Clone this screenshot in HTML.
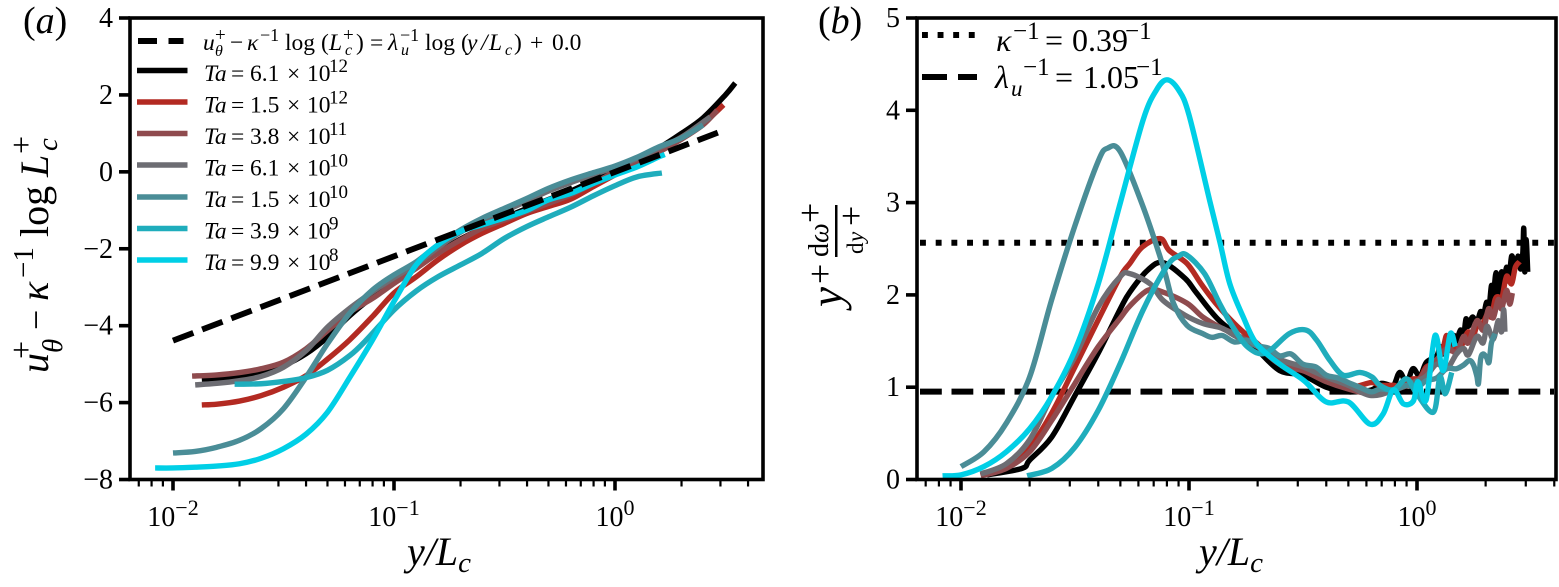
<!DOCTYPE html>
<html lang="en">
<head>
<meta charset="utf-8">
<title>Velocity and gradient profiles</title>
<style>
html,body{margin:0;padding:0;background:#fff;width:1559px;height:587px;overflow:hidden}
svg{display:block}
text{font-family:"Liberation Serif",serif;fill:#000}
.i{font-style:italic}
</style>
</head>
<body>
<svg id="figure" xmlns="http://www.w3.org/2000/svg" width="1559" height="587" viewBox="0 0 1559 587">
<rect width="1559" height="587" fill="#fff"/>
<g id="layerA"></g>
<g id="layerB"></g>

<text x="23" y="33" font-size="38">(<tspan class="i">a</tspan>)</text>
<text x="818" y="33" font-size="38">(<tspan class="i">b</tspan>)</text>

<text x="407" y="565" font-size="40" class="i">y/L<tspan font-size="29" dy="7">c</tspan></text>
<text x="1199" y="565" font-size="40" class="i">y/L<tspan font-size="29" dy="7">c</tspan></text>

<g transform="translate(48,373) rotate(-90)">
<text x="0" y="0" font-size="40" class="i">u</text>
<text x="14" y="-16" font-size="32">+</text>
<text x="20" y="14" font-size="29" class="i">θ</text>
<text x="43" y="0" font-size="36">−</text>
<text x="72" y="0" font-size="40" class="i">κ</text>
<text x="95" y="-15" font-size="29">−1</text>
<text x="136" y="0" font-size="40">log</text>
<text x="196" y="0" font-size="40" class="i">L</text>
<text x="219" y="-16" font-size="32">+</text>
<text x="222" y="9" font-size="29" class="i">c</text>
</g>

<g>
<g transform="translate(842,307) rotate(-90)">
<text x="0" y="0" font-size="45" class="i">y</text>
<text x="23" y="-10" font-size="36">+</text>
</g>
<g transform="translate(828,257) rotate(-90)">
<text x="0" y="0" font-size="28">d</text>
<text x="14" y="0" font-size="28" class="i">ω</text>
<text x="34" y="-6" font-size="36">+</text>
</g>
<rect x="835" y="205" width="2.5" height="52" fill="#000"/>
<g transform="translate(863,254) rotate(-90)">
<text x="0" y="0" font-size="23">d</text>
<text x="12" y="0" font-size="23" class="i">y</text>
<text x="28" y="0" font-size="36">+</text>
</g>
</g>

<g>
<line x1="138" x2="183.5" y1="41" y2="41" stroke="#000" stroke-width="5.9" stroke-dasharray="19 11.5"/>
<text y="50" font-size="23.5">
<tspan class="i" x="203">u</tspan><tspan font-size="19" x="215" dy="-9">+</tspan><tspan font-size="16" class="i" x="215" dy="15">θ</tspan><tspan x="230" dy="-6">−</tspan><tspan class="i" x="247">κ</tspan><tspan font-size="18" x="260" dy="-9">−1</tspan><tspan x="285" dy="9">log</tspan><tspan x="321">(</tspan><tspan class="i" x="329">L</tspan><tspan font-size="19" x="343" dy="-9">+</tspan><tspan font-size="16" class="i" x="345" dy="14">c</tspan><tspan x="356" dy="-5">)</tspan><tspan x="370">=</tspan><tspan class="i" x="388">λ</tspan><tspan font-size="18" x="400" dy="-9">−1</tspan><tspan font-size="16" class="i" x="401" dy="14">u</tspan><tspan x="425" dy="-5">log</tspan><tspan x="461">(</tspan><tspan class="i" x="467">y</tspan><tspan class="i" x="481">/</tspan><tspan class="i" x="489">L</tspan><tspan font-size="16" class="i" x="505" dy="5">c</tspan><tspan x="514" dy="-5">)</tspan><tspan x="530">+</tspan><tspan x="552">0.0</tspan>
</text>
<line x1="137" x2="187.5" y1="70.5" y2="70.5" stroke="#000" stroke-width="5.4"/>
<line x1="137" x2="187.5" y1="102" y2="102" stroke="#b32a22" stroke-width="5.4"/>
<line x1="137" x2="187.5" y1="133.5" y2="133.5" stroke="#8f4b4e" stroke-width="5.4"/>
<line x1="137" x2="187.5" y1="165" y2="165" stroke="#6d6d73" stroke-width="5.4"/>
<line x1="137" x2="187.5" y1="197" y2="197" stroke="#4a8d97" stroke-width="5.4"/>
<line x1="137" x2="187.5" y1="228.5" y2="228.5" stroke="#1fadbc" stroke-width="5.4"/>
<line x1="137" x2="187.5" y1="260" y2="260" stroke="#00cfe6" stroke-width="5.4"/>
<text y="81" font-size="23.5"><tspan class="i" x="204">Ta</tspan><tspan x="231">=</tspan><tspan x="250">6.1</tspan><tspan x="287">×</tspan><tspan x="307">10</tspan><tspan font-size="19" x="329" dy="-9">12</tspan></text>
<text y="112.5" font-size="23.5"><tspan class="i" x="204">Ta</tspan><tspan x="231">=</tspan><tspan x="250">1.5</tspan><tspan x="287">×</tspan><tspan x="307">10</tspan><tspan font-size="19" x="329" dy="-9">12</tspan></text>
<text y="144" font-size="23.5"><tspan class="i" x="204">Ta</tspan><tspan x="231">=</tspan><tspan x="250">3.8</tspan><tspan x="287">×</tspan><tspan x="307">10</tspan><tspan font-size="19" x="329" dy="-9">11</tspan></text>
<text y="175.5" font-size="23.5"><tspan class="i" x="204">Ta</tspan><tspan x="231">=</tspan><tspan x="250">6.1</tspan><tspan x="287">×</tspan><tspan x="307">10</tspan><tspan font-size="19" x="329" dy="-9">10</tspan></text>
<text y="207" font-size="23.5"><tspan class="i" x="204">Ta</tspan><tspan x="231">=</tspan><tspan x="250">1.5</tspan><tspan x="287">×</tspan><tspan x="307">10</tspan><tspan font-size="19" x="329" dy="-9">10</tspan></text>
<text y="238.5" font-size="23.5"><tspan class="i" x="204">Ta</tspan><tspan x="231">=</tspan><tspan x="250">3.9</tspan><tspan x="287">×</tspan><tspan x="307">10</tspan><tspan font-size="19" x="329" dy="-9">9</tspan></text>
<text y="270" font-size="23.5"><tspan class="i" x="204">Ta</tspan><tspan x="231">=</tspan><tspan x="250">9.9</tspan><tspan x="287">×</tspan><tspan x="307">10</tspan><tspan font-size="19" x="329" dy="-9">8</tspan></text>
</g>

<g>
<line x1="922" x2="977" y1="35" y2="35" stroke="#000" stroke-width="5.9" stroke-dasharray="5.9 9.7"/>
<line x1="922" x2="977" y1="77" y2="77" stroke="#000" stroke-width="5.9" stroke-dasharray="25 11"/>
<text y="51" font-size="32"><tspan class="i" x="996">κ</tspan><tspan font-size="25" x="1013" dy="-12">−1</tspan><tspan x="1045" dy="12">=</tspan><tspan x="1072">0.39</tspan><tspan font-size="25" x="1125" dy="-12">−1</tspan></text>
<text y="88" font-size="32"><tspan class="i" x="995">λ</tspan><tspan font-size="25" x="1023" dy="-13">−1</tspan><tspan font-size="23" class="i" x="1011" dy="21">u</tspan><tspan x="1055" dy="-8">=</tspan><tspan x="1083">1.05</tspan><tspan font-size="25" x="1136" dy="-13">−1</tspan></text>
</g>

<script>
// ---------- panel (a) data: y/Lc and u+ - k^-1 log Lc+ ----------
const fitX = [0.01, 2.92];
const fitY = [-4.39, 1.02];

const a61e12X = [0.0135,0.0158,0.02,0.025,0.0316,0.04,0.05,0.063,0.08,0.1,0.126,0.158,0.2,0.25,0.316,0.4,0.5,0.63,0.8,1,1.26,1.58,2,2.5,3.16,3.5];
const a61e12Y = [-5.39,-5.37,-5.3,-5.21,-5.04,-4.73,-4.3,-3.74,-3.25,-2.85,-2.45,-2.1,-1.75,-1.47,-1.2,-0.95,-0.72,-0.5,-0.22,0.08,0.32,0.62,1.0,1.4,2.0,2.31];

const a15e12X = [0.0135,0.0158,0.02,0.025,0.0316,0.04,0.05,0.063,0.08,0.1,0.126,0.158,0.2,0.25,0.316,0.4,0.5,0.63,0.8,1,1.26,1.58,2,2.5,3.1];
const a15e12Y = [-6.06,-6.04,-5.96,-5.82,-5.6,-5.3,-4.87,-4.37,-3.76,-3.15,-2.73,-2.29,-1.9,-1.6,-1.34,-1.08,-0.9,-0.71,-0.38,-0.08,0.22,0.55,0.9,1.25,1.74];

const a38e11X = [0.0122,0.0158,0.02,0.025,0.0316,0.04,0.05,0.063,0.08,0.1,0.126,0.158,0.2,0.25,0.316,0.4,0.5,0.63,0.8,1,1.26,1.58,2,2.5,2.9];
const a38e11Y = [-5.31,-5.28,-5.22,-5.12,-4.95,-4.6,-4.13,-3.65,-3.29,-2.9,-2.51,-2.12,-1.77,-1.47,-1.25,-1.03,-0.82,-0.6,-0.3,0.0,0.25,0.52,0.85,1.22,1.6];

const a61e10X = [0.0126,0.0158,0.02,0.025,0.0316,0.04,0.05,0.063,0.08,0.1,0.126,0.158,0.2,0.25,0.316,0.4,0.5,0.63,0.8,1,1.26,1.58,2,2.7];
const a61e10Y = [-5.54,-5.5,-5.43,-5.32,-5.08,-4.65,-4.04,-3.55,-3.12,-2.75,-2.4,-1.97,-1.57,-1.28,-1.02,-0.76,-0.5,-0.28,-0.07,0.12,0.35,0.62,0.9,1.43];

const a15e10X = [0.01,0.0126,0.0158,0.02,0.025,0.0316,0.04,0.05,0.063,0.08,0.1,0.126,0.158,0.2,0.25,0.316,0.4,0.5,0.63,0.8,1,1.26,1.58,2,2.5];
const a15e10Y = [-7.31,-7.27,-7.16,-6.98,-6.68,-6.16,-5.34,-4.47,-3.68,-3.07,-2.68,-2.34,-1.9,-1.51,-1.21,-0.95,-0.69,-0.43,-0.21,-0.02,0.15,0.38,0.65,0.88,1.22];

const a39e9X = [0.019,0.02,0.025,0.0316,0.04,0.05,0.063,0.075,0.1,0.126,0.158,0.2,0.25,0.316,0.4,0.5,0.63,0.8,1,1.26,1.63];
const a39e9Y = [-5.52,-5.52,-5.51,-5.45,-5.35,-5.16,-4.78,-4.37,-3.59,-3.1,-2.73,-2.42,-2.12,-1.73,-1.42,-1.17,-0.92,-0.62,-0.36,-0.13,-0.03];

const a99e8X = [0.0083,0.01,0.0126,0.0158,0.02,0.025,0.0316,0.04,0.05,0.063,0.08,0.1,0.126,0.158,0.2,0.25,0.316,0.4,0.5,0.63,0.8,1,1.26,1.58,1.68];
const a99e8Y = [-7.7,-7.7,-7.68,-7.65,-7.59,-7.45,-7.2,-6.82,-6.25,-5.35,-4.37,-3.37,-2.42,-1.9,-1.55,-1.38,-1.2,-1.0,-0.73,-0.56,-0.3,-0.08,0.13,0.39,0.45];

// ---------- panel (b) data: y/Lc and y+ dw+/dy+ ----------
const kappaInverse = [2.565];
const lambdaInverse = [0.952];

const b61e12X = [0.013,0.0185,0.02,0.025,0.0316,0.04,0.05,0.055,0.066,0.077,0.096,0.108,0.136,0.184,0.2,0.25,0.316,0.4,0.5,0.63,0.69,0.74,0.79,0.84,0.9,0.96,1.03,1.1,1.22,1.26,1.3,1.35,1.4,1.45,1.49,1.55,1.6,1.64,1.68,1.75,1.83,1.9,1.95,2.02,2.06,2.12,2.16,2.22,2.27,2.35,2.4,2.47,2.53,2.6,2.7,2.78,2.85,2.91,2.94,2.97,3.01,3.06];
const b61e12Y = [0.05,0.12,0.21,0.46,0.91,1.37,1.85,2.03,2.27,2.35,2.18,2.02,1.72,1.47,1.4,1.18,1.13,1.0,0.95,0.97,1.04,1.03,1.02,1.16,1.05,1.2,1.12,1.27,1.34,1.44,1.36,1.52,1.44,1.56,1.5,1.62,1.55,1.74,1.66,1.76,1.7,1.82,1.76,1.92,1.8,2.1,1.98,2.24,2.02,2.25,2.1,2.3,2.15,2.42,2.3,2.42,2.28,2.45,2.72,2.25,2.6,2.25];

const b15e12X = [0.0122,0.0158,0.02,0.025,0.0316,0.04,0.05,0.055,0.0625,0.0748,0.082,0.098,0.113,0.131,0.158,0.184,0.2,0.25,0.316,0.4,0.5,0.63,0.69,0.79,0.84,0.9,0.96,1.03,1.1,1.22,1.3,1.35,1.4,1.49,1.55,1.6,1.68,1.75,1.83,1.95,2.06,2.12,2.2,2.27,2.35,2.47,2.6,2.7,2.82];
const b15e12Y = [0.05,0.155,0.35,0.72,1.22,1.73,2.2,2.34,2.52,2.61,2.48,2.34,2.12,1.91,1.69,1.54,1.47,1.25,1.18,1.11,1.0,1.05,1.02,1.02,1.0,1.06,1.09,1.1,1.22,1.27,1.42,1.56,1.4,1.44,1.42,1.5,1.6,1.52,1.66,1.7,1.82,1.76,1.95,1.98,1.95,2.2,2.12,2.3,2.36];

const b38e11X = [0.0122,0.0158,0.02,0.025,0.0316,0.04,0.05,0.055,0.066,0.077,0.098,0.115,0.139,0.158,0.2,0.25,0.316,0.4,0.5,0.63,0.8,1,1.1,1.22,1.35,1.49,1.6,1.68,1.83,1.95,2.06,2.16,2.27,2.35,2.47,2.55,2.62];
const b38e11Y = [0.04,0.12,0.3,0.64,1.04,1.44,1.75,1.88,2.05,2.03,1.91,1.76,1.64,1.58,1.44,1.25,1.18,1.06,0.98,0.93,0.98,1.06,1.2,1.3,1.42,1.38,1.55,1.48,1.72,1.62,1.85,1.75,1.95,1.85,2.05,1.9,2.02];

const b61e10X = [0.0122,0.0158,0.02,0.025,0.0316,0.04,0.05,0.055,0.0675,0.077,0.096,0.115,0.139,0.158,0.18,0.2,0.25,0.316,0.4,0.5,0.63,0.8,1,1.1,1.22,1.35,1.49,1.6,1.68,1.83,1.95,2.03,2.16,2.27,2.35,2.4,2.43];
const b61e10Y = [0.06,0.17,0.43,0.9,1.33,1.87,2.2,2.23,2.12,1.94,1.78,1.69,1.64,1.56,1.49,1.44,1.3,1.22,1.11,1.02,0.91,0.97,1.07,1.12,1.25,1.2,1.36,1.42,1.35,1.55,1.48,1.66,1.52,1.72,1.6,1.84,1.6];

const b15e10X = [0.01,0.0126,0.0158,0.02,0.025,0.0316,0.04,0.044,0.05,0.063,0.0772,0.0855,0.098,0.115,0.126,0.14,0.158,0.18,0.2,0.225,0.25,0.28,0.316,0.36,0.4,0.45,0.5,0.56,0.63,0.69,0.79,0.9,1,1.1,1.22,1.35,1.49,1.6,1.7,1.77,1.83,1.86,1.9,1.95,2.02,2.07,2.12,2.2];
const b15e10Y = [0.14,0.3,0.61,1.11,1.95,2.75,3.45,3.59,3.55,2.95,2.3,1.91,1.67,1.58,1.54,1.56,1.49,1.51,1.45,1.42,1.34,1.36,1.25,1.22,1.13,1.1,1.05,1.0,0.95,0.98,0.97,1.02,1.0,1.07,1.1,1.2,1.2,1.24,1.29,1.24,1.12,1.04,1.3,1.36,1.32,1.27,1.48,1.58];

const b39e9X = [0.0195,0.025,0.0316,0.04,0.05,0.063,0.08,0.09,0.098,0.117,0.136,0.156,0.182,0.217,0.275,0.325,0.363,0.415,0.475,0.562,0.635,0.688,0.787,0.901,0.997,1.18,1.26,1.33,1.42];
const b39e9Y = [0.04,0.12,0.35,0.75,1.26,1.84,2.31,2.42,2.43,2.23,1.91,1.65,1.43,1.37,1.58,1.62,1.51,1.29,1.13,1.16,1.11,1.02,0.97,1.09,0.93,0.73,1.11,0.93,1.16];

const b99e8X = [0.0083,0.01,0.0126,0.0158,0.02,0.025,0.0316,0.04,0.05,0.063,0.072,0.08,0.09,0.1,0.123,0.137,0.151,0.173,0.198,0.25,0.32,0.4,0.5,0.622,0.71,0.787,0.871,0.964,1.01,1.096,1.2,1.3,1.4,1.47];
const b99e8Y = [0.04,0.05,0.14,0.3,0.55,0.9,1.4,2.12,3.0,3.9,4.22,4.33,4.22,3.95,3.03,2.56,2.12,1.76,1.47,1.25,1.07,0.84,0.84,0.6,0.71,0.97,0.82,0.85,1.06,0.86,1.56,1.18,1.58,1.44];

// ---------- tick labels ----------
const yTicksA = [4,2,0,-2,-4,-6,-8];
const yTicksB = [5,4,3,2,1,0];
const xMajor = [0.01,0.1,1];
const xMajorBase = ["10","10","10"];
const xMajorExp = ["−2","−1","0"];
const xMinorFactors = [2,3,4,5,6,7,8,9];

const NS = 'http://www.w3.org/2000/svg';
function make(tag, attrs){
  const el = document.createElementNS(NS, tag);
  for (const k in attrs) el.setAttribute(k, attrs[k]);
  return el;
}
function pathFrom(xs, ys, sx, sy){
  const P = xs.map((v, i) => [sx(v), sy(ys[i])]);
  let d = 'M' + P[0][0].toFixed(2) + ' ' + P[0][1].toFixed(2);
  for (let i = 0; i < P.length - 1; i++) {
    const p0 = P[Math.max(i - 1, 0)], p1 = P[i], p2 = P[i + 1], p3 = P[Math.min(i + 2, P.length - 1)];
    const c1x = p1[0] + (p2[0] - p0[0]) / 6, c1y = p1[1] + (p2[1] - p0[1]) / 6;
    const c2x = p2[0] - (p3[0] - p1[0]) / 6, c2y = p2[1] - (p3[1] - p1[1]) / 6;
    d += 'C' + c1x.toFixed(2) + ' ' + c1y.toFixed(2) + ' ' + c2x.toFixed(2) + ' ' + c2y.toFixed(2) + ' ' + p2[0].toFixed(2) + ' ' + p2[1].toFixed(2);
  }
  return d;
}
const axA = {layer: document.getElementById('layerA'), key: 'a', left: 130, right: 763, top: 18, bottom: 479.5, yTicks: yTicksA,
  sx: v => 173 + (Math.log10(v) + 2) * 221,
  sy: v => 18 + (4 - v) * 38.46, logMin: -2.195, logMax: 0.67};
const axB = {layer: document.getElementById('layerB'), key: 'b', left: 917, right: 1556, top: 18, bottom: 479.5, yTicks: yTicksB,
  sx: v => 961 + (Math.log10(v) + 2) * 228,
  sy: v => 479.5 - v * 92.3, logMin: -2.193, logMax: 0.61};

function drawSeries(ax, xs, ys, color, label){
  const p = make('path', {d: pathFrom(xs, ys, ax.sx, ax.sy), fill: 'none', stroke: color, 'stroke-width': 5.4, 'stroke-linejoin': 'round', 'stroke-linecap': 'butt'});
  
  
  ax.layer.appendChild(p);
}
function drawFrame(ax){
  const frame = make('rect', {x: ax.left, y: ax.top, width: ax.right - ax.left, height: ax.bottom - ax.top, fill: 'none', stroke: '#000', 'stroke-width': 3.6});
  
  
  ax.layer.appendChild(frame);
  ax.yTicks.forEach(v => {
    const y = ax.sy(v);
    const t = make('line', {x1: ax.left - 11, x2: ax.left, y1: y, y2: y, stroke: '#000', 'stroke-width': 3.6});
    
    
    ax.layer.appendChild(t);
    const lab = make('text', {x: ax.left - 17, y: y + 9, 'font-size': 28, 'text-anchor': 'end'});
    lab.textContent = (v < 0 ? '−' : '') + Math.abs(v);
    
    
    ax.layer.appendChild(lab);
  });
  xMajor.forEach((v, i) => {
    const x = ax.sx(v);
    const t = make('line', {x1: x, x2: x, y1: ax.bottom, y2: ax.bottom + 11, stroke: '#000', 'stroke-width': 3.6});
    
    
    ax.layer.appendChild(t);
    const lab = make('text', {x: x, y: 526, 'font-size': 28, 'text-anchor': 'middle'});
    
    
    const base = make('tspan', {});
    base.textContent = xMajorBase[i];
    const exp = make('tspan', {'font-size': 22, dy: -11});
    exp.textContent = xMajorExp[i];
    lab.appendChild(base);
    lab.appendChild(exp);
    ax.layer.appendChild(lab);
  });
  for (let d = -3; d <= 0; d++) {
    xMinorFactors.forEach(f => {
      const lg = d + Math.log10(f);
      if (lg < ax.logMin || lg > ax.logMax) return;
      const x = ax.sx(Math.pow(10, lg));
      const t = make('line', {x1: x, x2: x, y1: ax.bottom, y2: ax.bottom + 7, stroke: '#000', 'stroke-width': 2.2});
      
      
      ax.layer.appendChild(t);
    });
  }
}

// panel (a)
drawSeries(axA, a61e12X, a61e12Y, '#000000', 'a-series-ta-6-1e12');
drawSeries(axA, a15e12X, a15e12Y, '#b32a22', 'a-series-ta-1-5e12');
drawSeries(axA, a38e11X, a38e11Y, '#8f4b4e', 'a-series-ta-3-8e11');
drawSeries(axA, a61e10X, a61e10Y, '#6d6d73', 'a-series-ta-6-1e10');
drawSeries(axA, a15e10X, a15e10Y, '#4a8d97', 'a-series-ta-1-5e10');
drawSeries(axA, a39e9X, a39e9Y, '#1fadbc', 'a-series-ta-3-9e9');
drawSeries(axA, a99e8X, a99e8Y, '#00cfe6', 'a-series-ta-9-9e8');
const fitLine = make('line', {x1: axA.sx(fitX[0]), y1: axA.sy(fitY[0]), x2: axA.sx(fitX[1]), y2: axA.sy(fitY[1]), stroke: '#000', 'stroke-width': 5.9, 'stroke-dasharray': '21.8 9.4'});


axA.layer.appendChild(fitLine);
drawFrame(axA);

// panel (b)
const kappaLine = make('line', {x1: axB.left + 3, x2: axB.right - 2, y1: axB.sy(kappaInverse[0]), y2: axB.sy(kappaInverse[0]), stroke: '#000', 'stroke-width': 5.9, 'stroke-dasharray': '5.9 9.8'});


axB.layer.appendChild(kappaLine);
const lambdaLine = make('line', {x1: axB.left + 3, x2: axB.right - 2, y1: axB.sy(lambdaInverse[0]), y2: axB.sy(lambdaInverse[0]), stroke: '#000', 'stroke-width': 5.9, 'stroke-dasharray': '21.8 9.7'});


axB.layer.appendChild(lambdaLine);
drawSeries(axB, b61e12X, b61e12Y, '#000000', 'b-series-ta-6-1e12');
drawSeries(axB, b15e12X, b15e12Y, '#b32a22', 'b-series-ta-1-5e12');
drawSeries(axB, b38e11X, b38e11Y, '#8f4b4e', 'b-series-ta-3-8e11');
drawSeries(axB, b61e10X, b61e10Y, '#6d6d73', 'b-series-ta-6-1e10');
drawSeries(axB, b15e10X, b15e10Y, '#4a8d97', 'b-series-ta-1-5e10');
drawSeries(axB, b39e9X, b39e9Y, '#1fadbc', 'b-series-ta-3-9e9');
drawSeries(axB, b99e8X, b99e8Y, '#00cfe6', 'b-series-ta-9-9e8');
drawFrame(axB);
</script>
</svg>
</body>
</html>
